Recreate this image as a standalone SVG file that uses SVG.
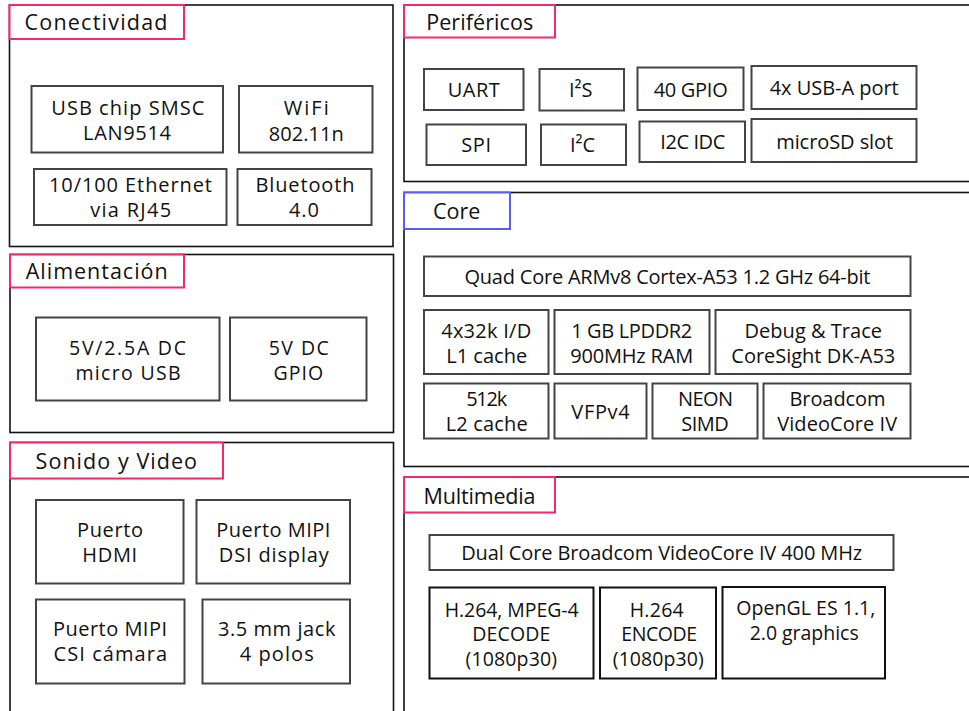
<svg xmlns="http://www.w3.org/2000/svg" width="969" height="711" viewBox="0 0 969 711">
<style>
text{font-family:"Open Sans","Liberation Sans",sans-serif;fill:#111;text-anchor:middle;}
.t{font-size:21.5px;}
.l{font-size:20px;}
.s{font-size:19.5px;}
.outer{fill:none;stroke:#111;stroke-width:1.6;}
.tp{fill:#fff;stroke:#f5286f;stroke-width:2;}
.tb{fill:#fff;stroke:#5a5cf5;stroke-width:2;}
.in{fill:#fff;stroke:#444;stroke-width:2;}
.ink{fill:#fff;stroke:#111;stroke-width:2;}
</style>
<rect width="969" height="711" fill="#fff"/>

<g id="conectividad">
<rect class="outer" x="9.5" y="5" width="383.5" height="241.5"/>
<rect class="tp" x="9.5" y="5" width="174.5" height="34"/>
<text class="t" x="96" y="29.5" textLength="143" lengthAdjust="spacing">Conectividad</text>
<rect class="in" x="31.5" y="86" width="191.5" height="66.5"/>
<text class="l" x="127.8" y="115" textLength="153" lengthAdjust="spacing">USB chip SMSC</text>
<text class="l" x="127" y="140" textLength="88" lengthAdjust="spacing">LAN9514</text>
<rect class="in" x="239" y="86" width="133.5" height="66.5"/>
<text class="l" x="306.2" y="115" textLength="45" lengthAdjust="spacing">WiFi</text>
<text class="l" x="306.3" y="140.5" textLength="75" lengthAdjust="spacing">802.11n</text>
<rect class="in" x="34" y="169" width="192.5" height="56"/>
<text class="l" x="130.5" y="192" textLength="163" lengthAdjust="spacing">10/100 Ethernet</text>
<text class="l" x="130.7" y="217" textLength="81" lengthAdjust="spacing">via RJ45</text>
<rect class="in" x="237.5" y="169" width="134" height="56"/>
<text class="l" x="305" y="192" textLength="99" lengthAdjust="spacing">Bluetooth</text>
<text class="l" x="304" y="217" textLength="30" lengthAdjust="spacing">4.0</text>
</g>

<g id="alimentacion">
<rect class="outer" x="10" y="254.5" width="383.5" height="178"/>
<rect class="tp" x="10" y="254.5" width="174" height="33"/>
<text class="t" x="96.7" y="279" textLength="142" lengthAdjust="spacing">Alimentación</text>
<rect class="in" x="36" y="317.5" width="183.5" height="83"/>
<text class="s" x="127.5" y="355" textLength="117" lengthAdjust="spacing">5V/2.5A DC</text>
<text class="s" x="128" y="379.5" textLength="105" lengthAdjust="spacing">micro USB</text>
<rect class="in" x="230" y="317.5" width="136.5" height="83"/>
<text class="s" x="298.8" y="355" textLength="60" lengthAdjust="spacing">5V DC</text>
<text class="s" x="298.3" y="379.5" textLength="49.5" lengthAdjust="spacing">GPIO</text>
</g>

<g id="sonido-video">
<rect class="outer" x="10" y="442.5" width="383.5" height="280"/>
<rect class="tp" x="10" y="442.5" width="213" height="36"/>
<text class="t" x="116.3" y="468.5" textLength="161.5" lengthAdjust="spacing">Sonido y Video</text>
<rect class="in" x="36" y="500" width="147.5" height="83.5"/>
<text class="l" x="110" y="536.5" textLength="66" lengthAdjust="spacing">Puerto</text>
<text class="l" x="109.7" y="561.5" textLength="55" lengthAdjust="spacing">HDMI</text>
<rect class="in" x="196.5" y="500" width="153.5" height="83.5"/>
<text class="l" x="273.3" y="536.5" textLength="114" lengthAdjust="spacing">Puerto MIPI</text>
<text class="l" x="273.8" y="561.5" textLength="110" lengthAdjust="spacing">DSI display</text>
<rect class="in" x="36" y="599.5" width="148.5" height="84"/>
<text class="l" x="110" y="636" textLength="114" lengthAdjust="spacing">Puerto MIPI</text>
<text class="l" x="110.3" y="661" textLength="113.5" lengthAdjust="spacing">CSI cámara</text>
<rect class="in" x="202.5" y="599.5" width="147.5" height="84"/>
<text class="l" x="276.7" y="636" textLength="117.5" lengthAdjust="spacing">3.5 mm jack</text>
<text class="l" x="276.7" y="661" textLength="74" lengthAdjust="spacing">4 polos</text>
</g>

<g id="perifericos">
<rect class="outer" x="404" y="5" width="580" height="176.5"/>
<rect class="tp" x="404" y="5" width="151" height="32.5"/>
<text class="t" x="479.7" y="29.5" textLength="107" lengthAdjust="spacing">Periféricos</text>
<rect class="in" x="424" y="69" width="99.5" height="41"/>
<text class="l" x="473.8" y="97" textLength="52" lengthAdjust="spacing">UART</text>
<rect class="in" x="539.5" y="69" width="84.5" height="41.5"/>
<text class="l" x="580.8" y="97">I²S</text>
<rect class="in" x="637.5" y="67.5" width="106" height="42.5"/>
<text class="l" x="690.7" y="97" textLength="74" lengthAdjust="spacing">40 GPIO</text>
<rect class="in" x="751.5" y="66" width="165" height="43"/>
<text class="l" x="834.2" y="95" textLength="129" lengthAdjust="spacing">4x USB-A port</text>
<rect class="in" x="426.5" y="124.5" width="99.5" height="40.5"/>
<text class="l" x="476.2" y="152" textLength="30" lengthAdjust="spacing">SPI</text>
<rect class="in" x="541" y="124.5" width="85" height="40.5"/>
<text class="l" x="582.5" y="152">I²C</text>
<rect class="in" x="639.5" y="121.5" width="105.5" height="40.5"/>
<text class="l" x="692.8" y="148.5" textLength="65" lengthAdjust="spacing">I2C IDC</text>
<rect class="in" x="751.5" y="119" width="165" height="43"/>
<text class="l" x="834.7" y="148.5" textLength="117" lengthAdjust="spacing">microSD slot</text>
</g>

<g id="core">
<rect class="outer" x="404" y="192.5" width="580" height="274"/>
<rect class="tb" x="404" y="192.5" width="106" height="36.5"/>
<text class="t" x="456.7" y="218.5" textLength="47.5" lengthAdjust="spacing">Core</text>
<rect class="in" x="424" y="256.5" width="486.5" height="39.5"/>
<text class="l" x="667.5" y="284" textLength="406" lengthAdjust="spacing">Quad Core ARMv8 Cortex-A53 1.2 GHz 64-bit</text>
<rect class="in" x="424" y="310" width="124.5" height="64"/>
<text class="l" x="486.2" y="337.5" textLength="90" lengthAdjust="spacing">4x32k I/D</text>
<text class="l" x="486.7" y="362.5" textLength="81" lengthAdjust="spacing">L1 cache</text>
<rect class="in" x="554.5" y="310" width="155" height="64"/>
<text class="l" x="631.7" y="337.5" textLength="121" lengthAdjust="spacing">1 GB LPDDR2</text>
<text class="l" x="631.7" y="362.5" textLength="123" lengthAdjust="spacing">900MHz RAM</text>
<rect class="in" x="715.5" y="310" width="195" height="64"/>
<text class="l" x="813.3" y="337.5" textLength="137.5" lengthAdjust="spacing">Debug &amp; Trace</text>
<text class="l" x="813.3" y="362.5" textLength="164" lengthAdjust="spacing">CoreSight DK-A53</text>
<rect class="in" x="424" y="383.5" width="124.5" height="55"/>
<text class="l" x="486.7" y="406" textLength="41" lengthAdjust="spacing">512k</text>
<text class="l" x="486.7" y="431" textLength="82" lengthAdjust="spacing">L2 cache</text>
<rect class="in" x="554.5" y="383.5" width="92" height="55"/>
<text class="l" x="600.5" y="418.5" textLength="58.5" lengthAdjust="spacing">VFPv4</text>
<rect class="in" x="652.5" y="383.5" width="105" height="55"/>
<text class="l" x="705.5" y="406" textLength="55" lengthAdjust="spacing">NEON</text>
<text class="l" x="705" y="431" textLength="47.5" lengthAdjust="spacing">SIMD</text>
<rect class="in" x="763.5" y="383.5" width="147" height="55"/>
<text class="l" x="837.5" y="406" textLength="96" lengthAdjust="spacing">Broadcom</text>
<text class="l" x="837.2" y="431" textLength="120" lengthAdjust="spacing">VideoCore IV</text>
</g>

<g id="multimedia">
<rect class="outer" x="404" y="477" width="580" height="250"/>
<rect class="tp" x="404" y="477" width="151" height="35.5"/>
<text class="t" x="479.5" y="503.5" textLength="112" lengthAdjust="spacing">Multimedia</text>
<rect class="in" x="429.5" y="535" width="464" height="35"/>
<text class="l" x="661.7" y="560" textLength="401" lengthAdjust="spacing">Dual Core Broadcom VideoCore IV 400 MHz</text>
<rect class="ink" x="429.5" y="587.5" width="164" height="91"/>
<text class="s" x="511.7" y="616.5" textLength="134" lengthAdjust="spacing">H.264, MPEG-4</text>
<text class="s" x="511.3" y="641" textLength="78" lengthAdjust="spacing">DECODE</text>
<text class="s" x="511.3" y="665.5" textLength="91.5" lengthAdjust="spacing">(1080p30)</text>
<rect class="ink" x="600" y="587.5" width="116" height="91"/>
<text class="s" x="656.7" y="616.5" textLength="54" lengthAdjust="spacing">H.264</text>
<text class="s" x="659.2" y="641" textLength="76" lengthAdjust="spacing">ENCODE</text>
<text class="s" x="658.3" y="665.5" textLength="91" lengthAdjust="spacing">(1080p30)</text>
<rect class="ink" x="722.5" y="587" width="162.5" height="91.5"/>
<text class="s" x="805.8" y="615" textLength="139" lengthAdjust="spacing">OpenGL ES 1.1,</text>
<text class="s" x="804.2" y="639.5" textLength="109" lengthAdjust="spacing">2.0 graphics</text>
</g>

<g id="connectors"></g>
</svg>
